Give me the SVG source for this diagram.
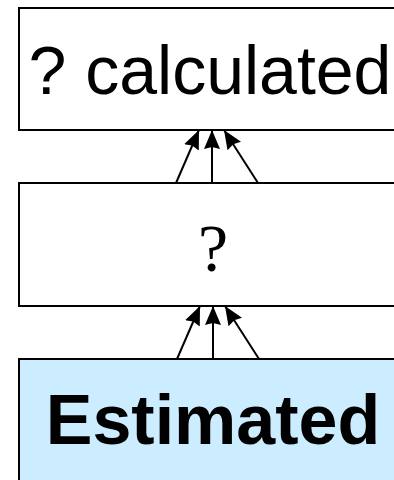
<svg xmlns="http://www.w3.org/2000/svg" width="394" height="480" viewBox="0 0 394 480">
<style>
.box{fill:#fff;stroke:#000;stroke-width:2}
.est{fill:#CCECFF;stroke:#000;stroke-width:2}
.conn line{stroke:#000;stroke-width:2}
</style>
<defs>
<marker id="ah" markerUnits="userSpaceOnUse" markerWidth="19" markerHeight="16" refX="19" refY="8" orient="auto" viewBox="0 0 19 16">
<path d="M0,0 L19,8 L0,16 L2,8 Z" fill="#000"/>
</marker>
</defs>
<rect width="394" height="480" fill="#fff"/>
<g id="node-calculated">
<rect class="box" x="19" y="8" width="390" height="122"/>
<text x="210" y="94" text-anchor="middle" font-family="Liberation Sans, Arial, sans-serif" font-size="68">? calculated</text>
</g>
<g id="node-unknown">
<rect class="box" x="19" y="183" width="390" height="123"/>
<text x="213" y="271" text-anchor="middle" font-family="Liberation Serif, Times New Roman, serif" font-size="68">?</text>
</g>
<g id="node-estimated">
<rect class="est" x="19" y="359" width="390" height="130"/>
<text x="213" y="444" text-anchor="middle" font-family="Liberation Sans, Arial, sans-serif" font-weight="bold" font-size="70">Estimated</text>
</g>
<g id="connectors" class="conn">
<line x1="176" y1="183" x2="199" y2="130" marker-end="url(#ah)"/>
<line x1="212" y1="183" x2="212" y2="130" marker-end="url(#ah)"/>
<line x1="258" y1="183" x2="224" y2="130" marker-end="url(#ah)"/>
<line x1="177" y1="359" x2="200" y2="306" marker-end="url(#ah)"/>
<line x1="213" y1="359" x2="213" y2="306" marker-end="url(#ah)"/>
<line x1="259" y1="359" x2="225" y2="306" marker-end="url(#ah)"/>
</g>
</svg>
